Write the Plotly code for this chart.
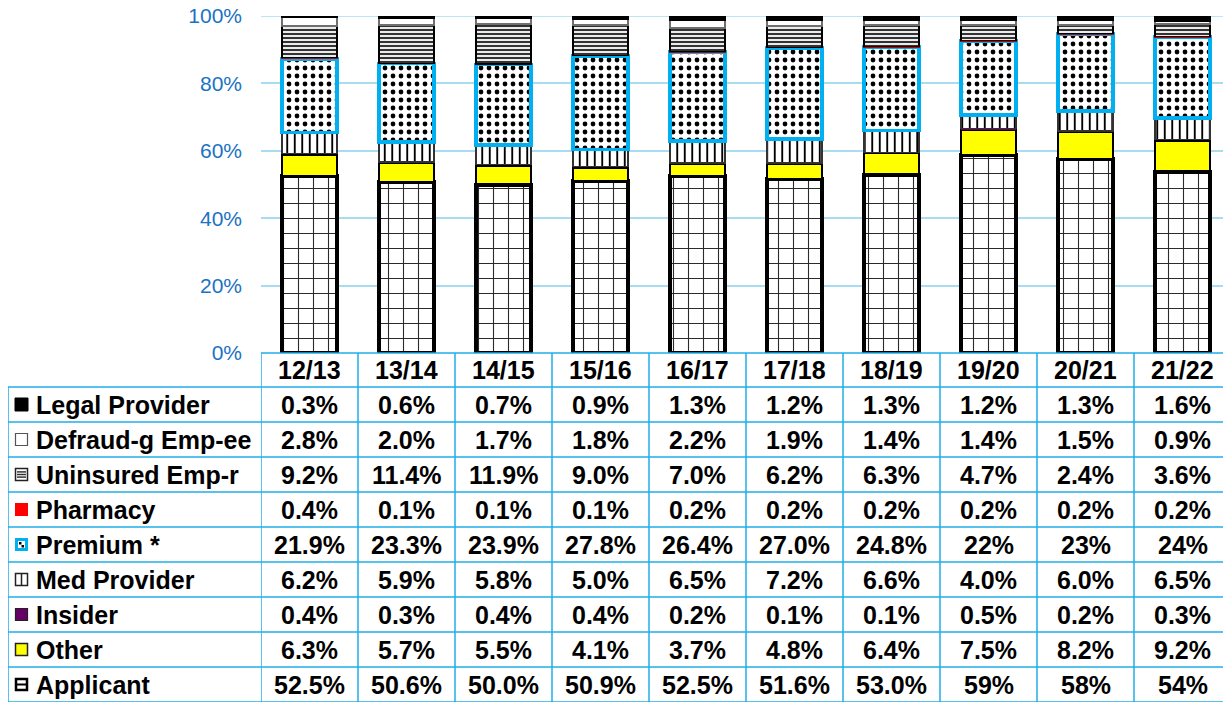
import plotly.graph_objects as go

# Page body adds an 8px margin; the figure is shifted by that amount
OFF = 8
W, H = 1231 - OFF, 702 - OFF

years = ["12/13", "13/14", "14/15", "15/16", "16/17", "17/18", "18/19", "19/20", "20/21", "21/22"]

# Series (bottom of stack -> top), values as shown in the table
applicant = ["52.5%", "50.6%", "50.0%", "50.9%", "52.5%", "51.6%", "53.0%", "59%", "58%", "54%"]
other = ["6.3%", "5.7%", "5.5%", "4.1%", "3.7%", "4.8%", "6.4%", "7.5%", "8.2%", "9.2%"]
insider = ["0.4%", "0.3%", "0.4%", "0.4%", "0.2%", "0.1%", "0.1%", "0.5%", "0.2%", "0.3%"]
med_provider = ["6.2%", "5.9%", "5.8%", "5.0%", "6.5%", "7.2%", "6.6%", "4.0%", "6.0%", "6.5%"]
premium = ["21.9%", "23.3%", "23.9%", "27.8%", "26.4%", "27.0%", "24.8%", "22%", "23%", "24%"]
pharmacy = ["0.4%", "0.1%", "0.1%", "0.1%", "0.2%", "0.2%", "0.2%", "0.2%", "0.2%", "0.2%"]
uninsured = ["9.2%", "11.4%", "11.9%", "9.0%", "7.0%", "6.2%", "6.3%", "4.7%", "2.4%", "3.6%"]
defraud = ["2.8%", "2.0%", "1.7%", "1.8%", "2.2%", "1.9%", "1.4%", "1.4%", "1.5%", "0.9%"]
legal = ["0.3%", "0.6%", "0.7%", "0.9%", "1.3%", "1.2%", "1.3%", "1.2%", "1.3%", "1.6%"]

y_ticks = [0, 20, 40, 60, 80, 100]
y_tick_text = ["0%", "20%", "40%", "60%", "80%", "100%"]

FONT = "Arial, Liberation Sans, sans-serif"
TABLE_LINE = "#1FAEE8"
GRID = "#A8DCF3"


def num(lst):
    return [float(s.rstrip("%")) for s in lst]


series = [
    ("Applicant", applicant, dict(color="white", line=dict(color="black", width=4),
                                  pattern=dict(shape="+", fgcolor="#2a2a2a", bgcolor="white",
                                               size=15, solidity=0.14, fillmode="replace"))),
    ("Other", other, dict(color="#FFFF00", line=dict(color="black", width=2.5))),
    ("Insider", insider, dict(color="#660066", line=dict(color="black", width=1))),
    ("Med Provider", med_provider, dict(color="white", line=dict(color="#333333", width=1.5),
                                        pattern=dict(shape="|", fgcolor="black", bgcolor="white",
                                                     size=7.5, solidity=0.25, fillmode="replace"))),
    ("Premium *", premium, dict(color="white", line=dict(color="#00B0F0", width=3.5),
                                pattern=dict(shape=".", fgcolor="black", bgcolor="white",
                                             size=8, solidity=0.28, fillmode="replace"))),
    ("Pharmacy", pharmacy, dict(color="#FF0000", line=dict(color="#C00000", width=1))),
    ("Uninsured Emp-r", uninsured, dict(color="white", line=dict(color="black", width=1.5),
                                        pattern=dict(shape="-", fgcolor="#333333", bgcolor="white",
                                                     size=4, solidity=0.55, fillmode="replace"))),
    ("Defraud-g Emp-ee", defraud, dict(color="white", line=dict(color="#6f6f6f", width=2))),
    ("Legal Provider", legal, dict(color="black", line=dict(color="black", width=1))),
]

fig = go.Figure()
for name, vals, marker in series:
    fig.add_trace(go.Bar(x=years, y=num(vals), name=name, marker=marker, showlegend=False))


# convert screen pixel positions (as in the target picture) to paper fractions
def px(x):
    return (x - OFF) / W


def py(y):
    return 1 - (y - OFF) / H


plot_left, plot_top, plot_bottom = 261, 16, 353
col_w = 97
header_bottom = 387
row_h = 35
table_left = 8

# last column is cut by the picture edge
x_max = -0.5 + (W + OFF - plot_left) / col_w

fig.update_layout(
    width=W, height=H,
    margin=dict(l=0, r=0, t=0, b=0, autoexpand=False),
    paper_bgcolor="white", plot_bgcolor="white",
    barmode="stack", barnorm="percent", bargap=0.43,
    font=dict(family=FONT),
    xaxis=dict(domain=[px(plot_left), 1], showticklabels=False, showgrid=False, automargin=False,
               zeroline=False, showline=False, ticks="", range=[-0.5, x_max]),
    yaxis=dict(domain=[py(plot_bottom), py(plot_top)], range=[0, 100.01], tickvals=y_ticks,
               ticktext=y_tick_text, showgrid=True, gridcolor=GRID, gridwidth=1.5, automargin=False,
               zeroline=False, showline=False, ticks="", ticklabelstandoff=18,
               ticklabeloverflow="allow",
               tickfont=dict(family=FONT, size=21, color="#1A72C4")),
)

shapes = []
# top (100%) gridline, behind the bars
shapes.append(dict(type="line", xref="paper", yref="y", x0=px(plot_left), x1=1,
                   y0=y_ticks[-1], y1=y_ticks[-1], layer="below",
                   line=dict(color=GRID, width=1.5)))
line_style = dict(color=TABLE_LINE, width=1.5)
# header top line (under plot)
shapes.append(dict(type="line", xref="paper", yref="paper", x0=px(plot_left), x1=1,
                   y0=py(plot_bottom), y1=py(plot_bottom), line=line_style))
# row lines
for k in range(10):
    yy = header_bottom + k * row_h
    shapes.append(dict(type="line", xref="paper", yref="paper", x0=px(table_left), x1=1,
                       y0=py(yy), y1=py(yy), line=line_style))
# left border of label column
shapes.append(dict(type="line", xref="paper", yref="paper", x0=px(table_left), x1=px(table_left),
                   y0=py(header_bottom), y1=0, line=line_style))
# vertical column separators
for i in range(len(years)):
    shapes.append(dict(type="line", xref="x", yref="paper", x0=i - 0.5, x1=i - 0.5,
                       y0=py(plot_bottom), y1=0, line=line_style))

annotations = []
for i, yr in enumerate(years):
    annotations.append(dict(x=i, xref="x", y=py((plot_bottom + header_bottom) / 2), yref="paper",
                            text="<b>%s</b>" % yr, showarrow=False, xanchor="center", yanchor="middle",
                            font=dict(family=FONT, size=25, color="black")))

rows = list(reversed(series))
ix0, isz = 15, 13
for r, (name, vals, marker) in enumerate(rows):
    yc = header_bottom + r * row_h + row_h / 2
    annotations.append(dict(x=px(34), xref="paper", y=py(yc), yref="paper", text="<b>%s</b>" % name,
                            showarrow=False, xanchor="left", yanchor="middle",
                            font=dict(family=FONT, size=25, color="black")))
    for i, v in enumerate(vals):
        annotations.append(dict(x=i, xref="x", y=py(yc), yref="paper", text="<b>%s</b>" % v,
                                showarrow=False, xanchor="center", yanchor="middle",
                                font=dict(family=FONT, size=25, color="black")))
    y0, y1 = yc - isz / 2, yc + isz / 2
    x0, x1 = ix0, ix0 + isz

    def rect(a0, b0, a1, b1, fill, lc, lw):
        shapes.append(dict(type="rect", xref="paper", yref="paper", x0=px(a0), x1=px(a1),
                           y0=py(b0), y1=py(b1), fillcolor=fill,
                           line=dict(color=lc, width=lw)))

    def seg(a0, b0, a1, b1, lc, lw):
        shapes.append(dict(type="line", xref="paper", yref="paper", x0=px(a0), x1=px(a1),
                           y0=py(b0), y1=py(b1), line=dict(color=lc, width=lw)))

    if name == "Legal Provider":
        rect(x0, y0, x1, y1, "black", "black", 1)
    elif name == "Defraud-g Emp-ee":
        rect(x0 + 0.5, y0 + 0.5, x1 - 0.5, y1 - 0.5, "white", "#555555", 1.2)
    elif name == "Uninsured Emp-r":
        rect(x0 + 0.5, y0 + 0.5, x1 - 0.5, y1 - 0.5, "white", "#222222", 1.5)
        for f in (0.3, 0.5, 0.7):
            seg(x0 + 2, y0 + f * isz, x1 - 2, y0 + f * isz, "#333333", 1.5)
    elif name == "Pharmacy":
        rect(x0, y0, x1, y1, "#FF0000", "#FF0000", 0)
    elif name == "Premium *":
        rect(x0, y0, x1, y1, "#00B0F0", "#00B0F0", 0)
        rect(x0 + 3, y0 + 3, x1 - 3, y1 - 3, "white", "white", 0)
        rect(x0 + 4, y0 + 4, x0 + 6.5, y0 + 6.5, "black", "black", 0)
        rect(x0 + 6.5, y0 + 7, x0 + 9, y0 + 9.5, "black", "black", 0)
    elif name == "Med Provider":
        rect(x0 + 0.5, y0 + 0.5, x1 - 0.5, y1 - 0.5, "white", "#222222", 1.5)
        seg((x0 + x1) / 2, y0 + 1, (x0 + x1) / 2, y1 - 1, "#222222", 1.5)
    elif name == "Insider":
        rect(x0 + 0.5, y0 + 0.5, x1 - 0.5, y1 - 0.5, "#660066", "#222222", 1.2)
    elif name == "Other":
        rect(x0 + 0.5, y0 + 0.5, x1 - 0.5, y1 - 0.5, "#FFFF00", "#222222", 1.5)
    elif name == "Applicant":
        rect(x0 + 1, y0 + 1, x1 - 1, y1 - 1, "white", "black", 2.5)
        seg(x0 + 1, (y0 + y1) / 2, x1 - 1, (y0 + y1) / 2, "black", 2)

fig.update_layout(shapes=shapes, annotations=annotations)
fig.write_html("out.html")
